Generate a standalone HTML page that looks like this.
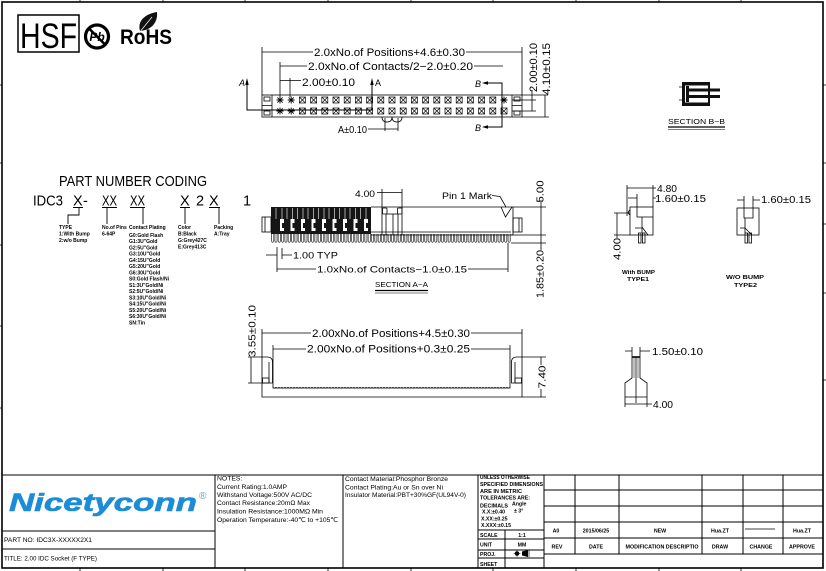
<!DOCTYPE html>
<html><head><meta charset="utf-8"><style>
html,body{margin:0;padding:0;background:#fff;}
svg{display:block;}
text{font-family:"Liberation Sans","DejaVu Sans","Noto Sans CJK SC",sans-serif;fill:#000;}
</style></head><body>
<svg width="826" height="571" viewBox="0 0 826 571" xmlns="http://www.w3.org/2000/svg">
<defs>
<g id="sq" fill="none" stroke="#000" stroke-width="0.7"><rect x="-3" y="-3" width="6" height="6"/><path d="M-3,-3L3,3M3,-3L-3,3"/></g>
<g id="ast" fill="none" stroke="#000" stroke-width="0.9"><path d="M-3.5,0H3.5M0,-3.5V3.5M-2.6,-2.6L2.6,2.6M2.6,-2.6L-2.6,2.6"/></g>
<pattern id="comb" x="271" y="234" width="3.33" height="10" patternUnits="userSpaceOnUse"><path d="M0.6,0V7.2Q1.6,9.5 2.7,7.2V0" fill="none" stroke="#000" stroke-width="0.6"/></pattern>
<pattern id="wave" x="273" y="386" width="3" height="4" patternUnits="userSpaceOnUse"><path d="M0,1Q1.5,3.5 3,1" fill="none" stroke="#000" stroke-width="0.6"/></pattern>
</defs>
<rect width="826" height="571" fill="#fff"/>

<!-- frame -->
<rect x="2" y="2" width="821" height="566" fill="none" stroke="#000" stroke-width="1.6"/>
<g stroke="#000" stroke-width="0.8">
<path d="M80,0V2M163,0V2M245,0V2M328,0V2M411,0V2M493,0V2M576,0V2M659,0V2M741,0V2"/>
<path d="M80,568V571M163,568V571M245,568V571M328,568V571M411,568V571M493,568V571M576,568V571M659,568V571M741,568V571"/>
<path d="M823,85H826M823,163H826M823,224H826M823,293H826M823,380H826M0,85H2M0,163H2M0,245H2M0,326H2M0,408H2"/>
</g>

<!-- HSF / Pb / RoHS -->
<rect x="18" y="15" width="61" height="37" fill="none" stroke="#000" stroke-width="1.5"/>
<text x="20" y="48" font-size="35" textLength="57" lengthAdjust="spacingAndGlyphs">HSF</text>
<circle cx="97" cy="36.5" r="11.5" fill="none" stroke="#000" stroke-width="3.2"/>
<text x="97" y="41" font-size="12" font-weight="bold" font-style="italic" text-anchor="middle">Pb</text>
<line x1="89" y1="28.5" x2="105" y2="44.5" stroke="#000" stroke-width="2.6"/>
<text x="120" y="44" font-size="21" font-weight="bold" textLength="52" lengthAdjust="spacingAndGlyphs">RoHS</text>
<path d="M140,31C137,21 145,14 157,12C158,22 152,30 140,31Z" fill="#111"/>
<path d="M139,33L152,17" stroke="#fff" stroke-width="0.7"/>

<!-- ===== TOP VIEW ===== -->
<g stroke="#000" stroke-width="0.8" fill="none">
<path d="M262,52H313M466,52H522M262,47V95M522,47V95"/>
<path d="M280,66H307M474,66H503M280,62V97"/>
<path d="M280,80.5H301M290,78V97"/>
<rect x="262" y="95" width="260" height="22"/>
<path d="M272,95V117M512,95V117"/>
<rect x="264" y="97" width="6" height="4"/><rect x="264" y="111" width="6" height="4"/>
<rect x="514" y="97" width="6" height="4"/><rect x="514" y="111" width="6" height="4"/>
<path d="M262,105.5H272M512,105.5H522"/>
<!-- section A line -->
<path d="M247,84V110H372V84" stroke-width="1"/>
<!-- B line -->
<path d="M487,83H502V127H487" stroke-width="1"/>
<!-- right ext -->
<path d="M522,95H548M512,100H536M512,111H536M522,117H549"/>
<path d="M532,90V111M545,95V117"/>
<!-- A±0.10 -->
<path d="M382,117Q382,122 387,122Q392,122 392,117M392,117Q392,122 397,122Q402,122 402,117"/>
<path d="M368,129H398M385,118V131M398,118V131"/>
</g>
<g fill="#000">
<polygon points="245.3,85 248.7,85 247,78"/>
<polygon points="370.3,85 373.7,85 372,78"/>
<polygon points="482,83 488,81.3 488,84.7"/>
<polygon points="482,127 488,125.3 488,128.7"/>
</g>
<use href="#ast" x="280" y="100"/><use href="#ast" x="291.2" y="100"/>
<use href="#sq" x="302.4" y="100"/><use href="#sq" x="313.6" y="100"/><use href="#sq" x="324.8" y="100"/><use href="#sq" x="336" y="100"/><use href="#sq" x="347.2" y="100"/><use href="#sq" x="358.4" y="100"/><use href="#sq" x="369.6" y="100"/><use href="#sq" x="380.8" y="100"/><use href="#sq" x="392" y="100"/><use href="#sq" x="403.2" y="100"/><use href="#sq" x="414.4" y="100"/><use href="#sq" x="425.6" y="100"/><use href="#sq" x="436.8" y="100"/><use href="#sq" x="448" y="100"/><use href="#sq" x="459.2" y="100"/><use href="#sq" x="470.4" y="100"/><use href="#sq" x="481.6" y="100"/><use href="#sq" x="492.8" y="100"/><use href="#ast" x="504" y="100"/>
<use href="#ast" x="280" y="111"/><use href="#ast" x="291.2" y="111"/>
<use href="#sq" x="302.4" y="111"/><use href="#sq" x="313.6" y="111"/><use href="#sq" x="324.8" y="111"/><use href="#sq" x="336" y="111"/><use href="#sq" x="347.2" y="111"/><use href="#sq" x="358.4" y="111"/><use href="#sq" x="369.6" y="111"/><use href="#sq" x="380.8" y="111"/><use href="#sq" x="392" y="111"/><use href="#sq" x="403.2" y="111"/><use href="#sq" x="414.4" y="111"/><use href="#sq" x="425.6" y="111"/><use href="#sq" x="436.8" y="111"/><use href="#sq" x="448" y="111"/><use href="#sq" x="459.2" y="111"/><use href="#sq" x="470.4" y="111"/><use href="#sq" x="481.6" y="111"/><use href="#sq" x="492.8" y="111"/><use href="#sq" x="504" y="111"/>
<g font-size="11">
<text x="314" y="56" textLength="151" lengthAdjust="spacingAndGlyphs">2.0xNo.of  Positions+4.6±0.30</text>
<text x="308" y="70" textLength="165" lengthAdjust="spacingAndGlyphs">2.0xNo.of  Contacts/2−2.0±0.20</text>
<text x="302" y="86" textLength="53" lengthAdjust="spacingAndGlyphs">2.00±0.10</text>
<text x="239" y="86" font-size="9" font-style="italic">A</text>
<text x="375" y="86" font-size="9">A</text>
<text x="475" y="87" font-size="9" font-style="italic">B</text>
<text x="475" y="131" font-size="9" font-style="italic">B</text>
<text x="338" y="133" font-size="10" textLength="29" lengthAdjust="spacingAndGlyphs">A±0.10</text>
<text transform="translate(537,67.5) rotate(-90)" text-anchor="middle" textLength="49" lengthAdjust="spacingAndGlyphs">2.00±0.10</text>
<text transform="translate(550,69) rotate(-90)" text-anchor="middle" textLength="52" lengthAdjust="spacingAndGlyphs">4.10±0.15</text>
</g>

<!-- ===== PART NUMBER CODING ===== -->
<text x="59" y="186" font-size="15" textLength="148" lengthAdjust="spacingAndGlyphs">PART NUMBER CODING</text>
<g font-size="14.5">
<text x="33" y="205.5" textLength="30" lengthAdjust="spacingAndGlyphs">IDC3</text>
<text x="73" y="205.5">X</text><text x="83" y="205.5">-</text>
<text x="102" y="205.5" textLength="15" lengthAdjust="spacingAndGlyphs">XX</text>
<text x="130" y="205.5" textLength="15" lengthAdjust="spacingAndGlyphs">XX</text>
<text x="180" y="205.5">X</text>
<text x="196" y="205.5">2</text>
<text x="209" y="205.5">X</text>
<text x="243" y="205.5">1</text>
</g>
<g stroke="#000" stroke-width="0.9" fill="none">
<path d="M73,207.5H83M102,207.5H117M130,207.5H145M180,207.5H190M209,207.5H220"/>
<path d="M79,207.5V215H68V224M107,207.5V224M143,207.5V224M185,207.5V224M219,207.5V224"/>
</g>
<g font-size="5" font-weight="bold">
<text x="59" y="229">TYPE</text><text x="59" y="235.5">1:With Bump</text><text x="59" y="242">2:w/o Bump</text>
<text x="102" y="229">No.of Pins</text><text x="102" y="235.5">6-64P</text>
<text x="129" y="229">Contact Plating</text>
<text x="129" y="237">G0:Gold Flash</text>
<text x="129" y="243.2">G1:3U"Gold</text>
<text x="129" y="249.5">G2:5U"Gold</text>
<text x="129" y="255.7">G3:10U"Gold</text>
<text x="129" y="262">G4:15U"Gold</text>
<text x="129" y="268.2">G5:20U"Gold</text>
<text x="129" y="274.4">G6:30U"Gold</text>
<text x="129" y="280.7">S0:Gold Flash/Ni</text>
<text x="129" y="286.9">S1:3U"Gold/Ni</text>
<text x="129" y="293.2">S2:5U"Gold/Ni</text>
<text x="129" y="299.4">S3:10U"Gold/Ni</text>
<text x="129" y="305.6">S4:15U"Gold/Ni</text>
<text x="129" y="311.9">S5:20U"Gold/Ni</text>
<text x="129" y="318.1">S6:30U"Gold/Ni</text>
<text x="129" y="324.4">SN:Tin</text>
<text x="178" y="229">Color</text><text x="178" y="235.5">B:Black</text><text x="178" y="242">G:Grey427C</text><text x="178" y="248.5">E:Grey413C</text>
<text x="214" y="229">Packing</text><text x="214" y="235.5">A:Tray</text>
</g>

<!-- ===== SECTION A-A ===== -->
<rect x="271" y="234" width="240" height="10" fill="url(#comb)"/>
<rect x="271" y="207" width="100" height="27" fill="#151515"/>
<g fill="#fff">
<rect x="280" y="219" width="4" height="12"/><rect x="290.5" y="219" width="4" height="12"/><rect x="301" y="219" width="4" height="12"/><rect x="311.5" y="219" width="4" height="12"/><rect x="322" y="219" width="4" height="12"/><rect x="332.5" y="219" width="4" height="12"/><rect x="343" y="219" width="4" height="12"/><rect x="353.5" y="219" width="4" height="12"/><rect x="364" y="219" width="4" height="12"/>
</g>
<g fill="#151515">
<rect x="282" y="223" width="2" height="5"/><rect x="292.5" y="223" width="2" height="5"/><rect x="303" y="223" width="2" height="5"/><rect x="313.5" y="223" width="2" height="5"/><rect x="324" y="223" width="2" height="5"/><rect x="334.5" y="223" width="2" height="5"/><rect x="345" y="223" width="2" height="5"/><rect x="355.5" y="223" width="2" height="5"/><rect x="366" y="223" width="2" height="5"/>
</g>
<g stroke="#fff" stroke-width="0.6">
<path d="M282,208V219M292.5,208V219M303,208V219M313.5,208V219M324,208V219M334.5,208V219M345,208V219M355.5,208V219M366,208V219"/>
<path d="M276,208V219M287,208V219M297.5,208V219M308,208V219M318.5,208V219M329,208V219M339.5,208V219M350,208V219M360.5,208V219"/>
</g>
<g stroke="#000" stroke-width="0.8" fill="none">
<path d="M371,207H513V235H371"/>
<path d="M371,232H511"/>
<path d="M382,207V235M386,214V235M393,214V235M398,214V235M402,207V235"/>
<rect x="382.5" y="208" width="4.5" height="6" rx="1"/>
<rect x="397.5" y="208" width="4.5" height="6" rx="1"/>
<path d="M386,214H398"/>
<path d="M501,207L505.5,217L512,207"/>
<path d="M492,195.5L500,196.5L506,207"/>
<rect x="262" y="217" width="9" height="15"/><path d="M265,217V232"/>
<rect x="513" y="218" width="9" height="14"/><path d="M519,218V232"/>
<path d="M377,192.5H402M382,189V208M402,189V208"/>
<path d="M266,255H277M282,255H292M277,247V272M282,248V259"/>
<path d="M277,269H316M468,269H508M508,243V272"/>
<path d="M513,207H546M511,235H546M511,243H546M541,200V250"/>
</g>
<path d="M375,290.5H428" stroke="#000" stroke-width="1.2"/>
<path d="M375,293H428" stroke="#000" stroke-width="0.6"/>
<g font-size="9.5">
<text x="355" y="197" textLength="20" lengthAdjust="spacingAndGlyphs">4.00</text>
<text x="442" y="199" font-size="9" textLength="50" lengthAdjust="spacingAndGlyphs">Pin 1 Mark</text>
<text x="293" y="258.5" textLength="45" lengthAdjust="spacingAndGlyphs">1.00 TYP</text>
<text x="317" y="272.5" textLength="150" lengthAdjust="spacingAndGlyphs">1.0xNo.of  Contacts−1.0±0.15</text>
<text x="375" y="287" font-size="7.5" textLength="53" lengthAdjust="spacingAndGlyphs">SECTION A−A</text>
<text transform="translate(543.5,191.5) rotate(-90)" text-anchor="middle" font-size="10" textLength="22" lengthAdjust="spacingAndGlyphs">5.00</text>
<text transform="translate(543.5,274) rotate(-90)" text-anchor="middle" font-size="10" textLength="48" lengthAdjust="spacingAndGlyphs">1.85±0.20</text>
</g>

<!-- ===== BOTTOM VIEW ===== -->
<g stroke="#000" stroke-width="0.8" fill="none">
<path d="M262,333H311M471,333H522M273,349H306M471,349H510"/>
<path d="M262,329V397H522V329"/>
<path d="M262,357H267Q272.5,357 272.5,362V383H262M269,362V383"/>
<rect x="262.5" y="378" width="6.5" height="5"/>
<path d="M273,345V388H510V345"/>
<path d="M522,357H517Q511.5,357 511.5,362V383H522M515,362V383"/>
<rect x="515" y="378" width="6.5" height="5"/>
<path d="M248,357H262M248,383H262M251,357V383"/>
<path d="M522,357H546M522,397H546M541,357V365M541,389V397"/>
</g>
<rect x="273.3" y="386" width="236.5" height="4" fill="url(#wave)"/>
<g font-size="11">
<text x="312" y="337" textLength="158" lengthAdjust="spacingAndGlyphs">2.00xNo.of  Positions+4.5±0.30</text>
<text x="307" y="352.5" textLength="163" lengthAdjust="spacingAndGlyphs">2.00xNo.of  Positions+0.3±0.25</text>
<text transform="translate(255.5,331) rotate(-90)" text-anchor="middle" font-size="10.5" textLength="52" lengthAdjust="spacingAndGlyphs">3.55±0.10</text>
<text transform="translate(545.5,377) rotate(-90)" text-anchor="middle" font-size="10.5" textLength="23" lengthAdjust="spacingAndGlyphs">7.40</text>
</g>

<!-- ===== SECTION B-B ===== -->
<rect x="682" y="82" width="28" height="24" fill="#111"/>
<rect x="685" y="85.5" width="23" height="17" fill="#fff"/>
<rect x="686" y="88.5" width="34" height="3" fill="#111"/>
<rect x="686" y="95" width="34" height="3" fill="#111"/>
<rect x="686" y="86" width="3" height="16" fill="#111"/>
<path d="M679,87H682M679,100H682" stroke="#000" stroke-width="0.8"/>
<text x="668" y="124" font-size="7.5" textLength="57" lengthAdjust="spacingAndGlyphs">SECTION B−B</text>
<path d="M668,127H725" stroke="#000" stroke-width="1.2"/>
<path d="M668,129.5H725" stroke="#000" stroke-width="0.6"/>

<!-- ===== TYPE1 ===== -->
<g stroke="#000" stroke-width="0.8" fill="none">
<rect x="630" y="207" width="23" height="28"/>
<path d="M630,210Q626.5,212.5 630,215"/>
<path d="M627,188H656M627,185V216M653,185V207"/>
<path d="M628,198H637M637,194V217H653M653,198H656"/>
<path d="M642,217V227L648,235M635,228H642V233"/>
<rect x="638.5" y="233" width="2.5" height="10"/><rect x="642.5" y="233" width="2.5" height="10"/>
<path d="M614,213H630M614,235H630M617,213V238"/>
</g>
<g font-size="10">
<text x="657" y="192" textLength="20" lengthAdjust="spacingAndGlyphs">4.80</text>
<text x="655" y="202" textLength="51" lengthAdjust="spacingAndGlyphs">1.60±0.15</text>
<text transform="translate(620.5,249) rotate(-90)" text-anchor="middle" textLength="22" lengthAdjust="spacingAndGlyphs">4.00</text>
</g>
<g font-size="5.5" font-weight="bold">
<text x="622" y="274" textLength="33" lengthAdjust="spacingAndGlyphs">With BUMP</text>
<text x="627" y="281" textLength="22" lengthAdjust="spacingAndGlyphs">TYPE1</text>
<text x="726" y="279" textLength="38" lengthAdjust="spacingAndGlyphs">W/O  BUMP</text>
<text x="734" y="287" textLength="23" lengthAdjust="spacingAndGlyphs">TYPE2</text>
</g>

<!-- ===== TYPE2 ===== -->
<g stroke="#000" stroke-width="0.8" fill="none">
<rect x="737" y="208" width="22" height="27"/>
<path d="M737,200H744M744,196V218H753V196M753,200H760"/>
<path d="M745,218V228L752,235M740,228H745V233"/>
<rect x="745" y="233" width="2.5" height="10"/><rect x="749" y="233" width="2.5" height="10"/>
</g>
<text x="761" y="203" font-size="10" textLength="50" lengthAdjust="spacingAndGlyphs">1.60±0.15</text>

<!-- ===== BOTTOM RIGHT DETAIL ===== -->
<g stroke="#000" stroke-width="0.8" fill="none">
<path d="M632,357V378L625,383V397H647V383L640,378V357"/>
<path d="M632,357H640" stroke-width="1.6"/>
<path d="M634,357V378M638,357V378" stroke-width="0.5"/>
<path d="M636,357V403"/>
<path d="M625,351H632M640,351H650M632,347V357M640,347V357"/>
<path d="M625,404H652M625,397V407M647,397V407"/>
</g>
<text x="652" y="355" font-size="10" textLength="51" lengthAdjust="spacingAndGlyphs">1.50±0.10</text>
<text x="653" y="408" font-size="10" textLength="20" lengthAdjust="spacingAndGlyphs">4.00</text>

<!-- ===== TITLE BLOCK ===== -->
<g stroke="#000" stroke-width="1" fill="none">
<path d="M2,475H823"/>
<path d="M215,475V568M343,475V568M478,475V568M544,475V568"/>
<path d="M2,531H215M2,549H215"/>
<path d="M478,530H544M478,539H544M478,550H544M478,558H544M505,530V568"/>
<path d="M544,490H823M544,506H823M544,522H823M544,538H823M544,554H823"/>
<path d="M575,475V554M619,475V554M702,475V554M743,475V554M783,475V554"/>
<path d="M745,529H775" stroke-width="0.8"/>
</g>
<text x="9" y="511" font-size="25" font-weight="bold" font-style="italic" fill="#1a8cd8" style="fill:#1a8cd8" stroke="#1a8cd8" stroke-width="0.6" textLength="188" lengthAdjust="spacingAndGlyphs">Nicetyconn</text>
<text x="199" y="499" font-size="10" style="fill:#6a9ec8">®</text>
<text x="4" y="542" font-size="6.5" textLength="88" lengthAdjust="spacingAndGlyphs">PART NO: IDC3X-XXXXX2X1</text>
<text x="4" y="560.5" font-size="6.5" textLength="93" lengthAdjust="spacingAndGlyphs">TITLE: 2.00 IDC Socket (F TYPE)</text>
<g font-size="6.8">
<text x="217" y="480.5">NOTES:</text>
<text x="217" y="488.8" textLength="70" lengthAdjust="spacingAndGlyphs">Current Rating:1.0AMP</text>
<text x="217" y="497.2" textLength="95" lengthAdjust="spacingAndGlyphs">Withstand Voltage:500V AC/DC</text>
<text x="217" y="505" textLength="93" lengthAdjust="spacingAndGlyphs">Contact Resistance:20mΩ Max</text>
<text x="217" y="513.3" textLength="106" lengthAdjust="spacingAndGlyphs">Insulation Resistance:1000MΩ Min</text>
<text x="217" y="522" textLength="121" lengthAdjust="spacingAndGlyphs">Operation Temperature:-40℃ to +105℃</text>
<text x="345" y="481" textLength="103" lengthAdjust="spacingAndGlyphs">Contact Material:Phosphor Bronze</text>
<text x="345" y="489.3" textLength="98" lengthAdjust="spacingAndGlyphs">Contact Plating:Au or Sn over Ni</text>
<text x="345" y="497" textLength="121" lengthAdjust="spacingAndGlyphs">Insulator Material:PBT+30%GF(UL94V-0)</text>
</g>
<g font-size="5.2" font-weight="bold">
<text x="480" y="479" textLength="50" lengthAdjust="spacingAndGlyphs">UNLESS OTHERWISE</text>
<text x="480" y="486" textLength="63" lengthAdjust="spacingAndGlyphs">SPECIFIED DIMENSIONS</text>
<text x="480" y="493" textLength="42" lengthAdjust="spacingAndGlyphs">ARE IN METRIC</text>
<text x="480" y="499.5" textLength="50" lengthAdjust="spacingAndGlyphs">TOLERANCES  ARE:</text>
<text x="480" y="507.5" textLength="28" lengthAdjust="spacingAndGlyphs">DECIMALS</text>
<text x="512" y="505.5">Angle</text>
<text x="482" y="513.5">X.X:±0.40</text>
<text x="514" y="512.5">± 3°</text>
<text x="481" y="520.5">X.XX:±0.25</text>
<text x="481" y="527">X.XXX:±0.15</text>
<text x="480" y="537">SCALE</text><text x="522" y="537" text-anchor="middle">1:1</text>
<text x="480" y="546.5">UNIT</text><text x="522" y="546.5" text-anchor="middle">MM</text>
<text x="480" y="556">PROJ.</text>
<text x="480" y="566">SHEET</text>
</g>
<circle cx="517" cy="553.5" r="2.3" fill="#000"/>
<path d="M513.5,553.5H520.5M517,550V557" stroke="#000" stroke-width="0.5"/>
<path d="M522,551.5L528,550V557L522,555.5Z" fill="#000"/>
<path d="M529,550V557" stroke="#000" stroke-width="0.6"/>
<g font-size="5.3" font-weight="bold" text-anchor="middle">
<text x="556" y="532.5">A0</text>
<text x="596" y="532.5">2015/06/25</text>
<text x="660" y="532.5">NEW</text>
<text x="720" y="532.5">Hua.ZT</text>
<text x="802" y="532.5">Hua.ZT</text>
<text x="557" y="548.5">REV</text>
<text x="596" y="548.5">DATE</text>
<text x="662" y="548.5" textLength="73" lengthAdjust="spacingAndGlyphs">MODIFICATION DESCRIPTIO</text>
<text x="720" y="548.5">DRAW</text>
<text x="761" y="548.5">CHANGE</text>
<text x="802" y="548.5">APPROVE</text>
</g>
</svg>
</body></html>
